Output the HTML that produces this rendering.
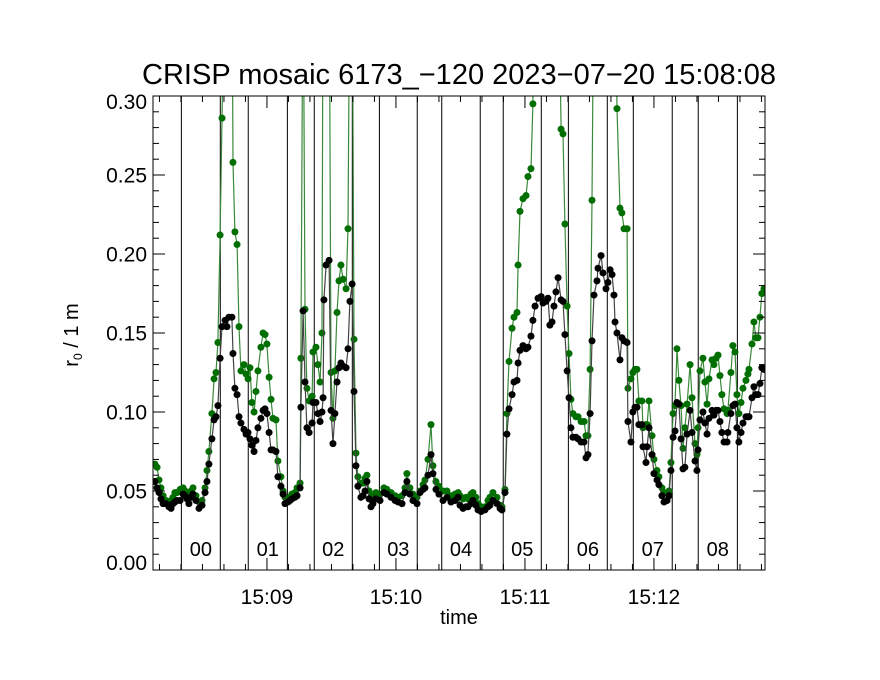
<!DOCTYPE html>
<html><head><meta charset="utf-8"><style>
html,body{margin:0;padding:0;background:#fff;}
svg{display:block;font-family:"Liberation Sans",sans-serif;}
</style></head><body>
<svg id="chart" width="880" height="680" viewBox="0 0 880 680" xmlns="http://www.w3.org/2000/svg">
<rect x="0" y="0" width="880" height="680" fill="#fff"/>
<text x="459" y="84" font-size="29" text-anchor="middle">CRISP mosaic 6173_−120 2023−07−20 15:08:08</text>
<text x="459" y="624" font-size="20" text-anchor="middle">time</text>
<text transform="translate(78,335) rotate(-90)" font-size="20" text-anchor="middle">r<tspan font-size="12" dy="4">0</tspan><tspan dy="-4"> / 1 m</tspan></text>
<defs><clipPath id="plotclip"><rect x="153" y="96" width="612" height="474"/></clipPath></defs>
<g id="grid"></g>
<g id="series" clip-path="url(#plotclip)"></g>
<g id="axes"></g>
</svg>
<script>
// time in seconds after 15:08:00
const times = [7.9,8.9,9.8,10.7,11.7,13.0,14.4,15.4,16.3,17.2,18.2,19.6,21.0,21.9,22.8,23.7,24.7,25.6,27.0,28.4,29.8,31.2,32.1,33.0,34.4,35.4,36.3,37.2,38.2,39.1,40.5,41.4,42.3,43.7,44.2,45.1,46.1,47.0,47.9,49.3,50.3,51.2,52.1,53.0,54.0,54.9,55.8,57.2,58.2,59.1,60.0,61.0,61.9,62.8,64.2,65.1,66.5,67.5,68.4,69.8,70.7,71.6,73.0,74.0,75.4,75.8,76.8,77.7,78.6,79.6,81.0,81.4,82.8,83.7,84.7,85.6,86.1,86.5,87.5,88.9,89.8,90.7,91.6,92.6,93.5,94.4,95.4,96.8,97.7,98.6,99.6,100.5,101.4,102.3,103.7,104.7,105.6,106.5,107.5,108.4,109.3,110.7,112.6,114.4,115.8,117.7,119.6,121.0,122.8,124.2,125.1,126.5,127.9,129.8,131.2,132.6,133.5,134.9,136.3,137.2,138.6,140.0,141.9,143.7,145.6,147.5,148.9,149.8,151.2,152.6,153.5,154.9,155.8,157.2,158.2,159.6,161.4,162.8,163.7,165.1,167.0,168.4,169.3,170.7,171.6,172.6,174.0,174.9,176.3,176.8,177.7,179.1,180.5,181.4,182.8,183.7,184.7,186.1,187.5,188.4,189.8,190.7,191.6,192.6,193.5,194.4,195.4,196.8,197.7,198.6,199.6,200.5,201.4,202.3,203.7,204.7,206.1,207.5,208.4,209.3,210.3,211.2,212.1,213.5,214.0,215.4,216.3,217.7,218.6,219.6,220.5,221.4,221.9,222.8,224.2,225.1,226.1,227.5,227.9,229.3,230.2,231.2,232.1,233.0,234.4,234.9,236.3,236.8,237.7,239.1,240.0,241.4,242.3,243.7,244.7,246.1,247.0,247.9,248.9,249.8,250.7,251.6,252.6,253.5,254.4,255.4,256.8,257.7,259.1,260.0,260.5,261.4,262.8,263.7,264.7,265.6,267.0,267.9,268.9,269.8,270.7,271.6,272.6,274.0,274.4,275.8,276.7,277.7,278.6,279.5,280.5,281.4,282.8,283.7,284.2,285.6,286.5,287.4,288.4,289.3,290.2,291.2];
const blackR0 = [.056,.052,.049,.045,.042,.042,.040,.039,.042,.043,.044,.044,.048,.047,.045,.042,.046,.048,.044,.039,.041,.049,.056,.067,.083,.095,.097,.104,.134,.154,.158,.154,.160,.160,.137,.115,.111,.097,.093,.089,.086,.087,.083,.079,.075,.082,.090,.096,.101,.102,.099,.087,.076,.076,.075,.059,.053,.048,.042,.043,.044,.045,.046,.047,.052,.103,.164,.119,.090,.087,.093,.106,.106,.099,.094,.100,.109,.171,.193,.196,.101,.080,.099,.119,.128,.131,.129,.128,.140,.170,.181,.113,.066,.053,.046,.047,.050,.056,.045,.040,.042,.045,.044,.049,.048,.046,.044,.043,.042,.049,.056,.048,.044,.042,.049,.051,.052,.060,.073,.061,.051,.048,.044,.046,.043,.044,.046,.041,.039,.040,.040,.042,.044,.041,.038,.037,.038,.040,.041,.044,.042,.039,.038,.049,.086,.102,.111,.119,.120,.131,.139,.142,.140,.141,.148,.158,.167,.172,.173,.169,.170,.172,.155,.157,.167,.176,.185,.171,.170,.149,.126,.109,.090,.084,.084,.083,.081,.081,.071,.073,.099,.145,.174,.183,.191,.199,.188,.178,.182,.190,.187,.174,.157,.150,.133,.147,.145,.144,.094,.081,.100,.103,.103,.092,.092,.078,.068,.078,.090,.073,.061,.057,.054,.047,.043,.044,.047,.063,.084,.088,.106,.105,.083,.064,.065,.086,.101,.087,.069,.063,.076,.095,.100,.093,.086,.096,.101,.098,.101,.101,.094,.087,.081,.081,.087,.099,.104,.105,.090,.081,.087,.093,.097,.097,.097,.109,.116,.111,.111,.118,.128,.127];
const greenR0 = [.067,.065,.057,.052,.047,.044,.043,.044,.046,.049,.049,.051,.052,.050,.048,.047,.050,.052,.047,.043,.044,.052,.063,.075,.099,.121,.125,.144,.212,.286,.40,.40,.40,.40,.258,.214,.206,.154,.126,.130,.124,.121,.128,.106,.100,.113,.126,.141,.150,.149,.143,.122,.108,.096,.095,.069,.059,.050,.046,.045,.046,.048,.049,.052,.055,.134,.40,.165,.115,.107,.110,.138,.141,.130,.119,.150,.40,.40,.40,.40,.125,.096,.126,.163,.183,.193,.184,.178,.216,.40,.40,.146,.074,.059,.055,.055,.058,.060,.050,.046,.047,.049,.048,.052,.051,.049,.047,.046,.047,.052,.061,.052,.048,.046,.050,.054,.057,.070,.092,.066,.056,.053,.050,.050,.047,.048,.049,.047,.045,.046,.045,.048,.049,.046,.042,.040,.040,.044,.046,.049,.046,.041,.040,.051,.099,.132,.153,.160,.163,.193,.227,.235,.237,.249,.254,.295,.40,.40,.40,.40,.40,.40,.40,.40,.40,.40,.40,.279,.276,.219,.167,.137,.108,.099,.097,.097,.094,.094,.085,.085,.127,.234,.40,.40,.40,.40,.40,.40,.40,.40,.40,.40,.40,.292,.229,.226,.216,.216,.115,.121,.125,.127,.127,.107,.107,.090,.092,.092,.107,.085,.070,.063,.059,.052,.049,.049,.050,.068,.099,.104,.140,.120,.104,.077,.090,.105,.130,.109,.080,.073,.090,.126,.134,.119,.105,.121,.133,.130,.134,.136,.123,.111,.102,.099,.101,.125,.142,.138,.111,.099,.106,.115,.120,.124,.127,.143,.157,.147,.147,.160,.175,.178];
const segmentBounds = [20.2,38.3,51.3,69.5,82.0,99.7,112.3,129.9,141.3,159.2,169.9,187.6,200.2,218.3,230.4,248.5,260.6,278.8];
const segmentLabels = ["00","01","02","03","04","05","06","07","08"];
const yTicks = [0.00,0.05,0.10,0.15,0.20,0.25,0.30];
const yTickLabels = ["0.00","0.05","0.10","0.15","0.20","0.25","0.30"];
const xMajorTimes = [60,120,180,240];
const xTickLabels = ["15:09","15:10","15:11","15:12"];

const NS="http://www.w3.org/2000/svg";
const L=153,R=765,T=96,B=570;
const T0=7, T1=T0+(R-L)/2.15;
function xs(t){return L+(t-T0)*(R-L)/(T1-T0);}
function ys(v){return B-(v-0)*(B-T)/0.30;}
function mk(tag,parent,attrs){const e=document.createElementNS(NS,tag);for(const k in attrs)e.setAttribute(k,attrs[k]);parent.appendChild(e);return e;}
const grid=document.getElementById('grid'),series=document.getElementById('series'),axes=document.getElementById('axes');

segmentBounds.forEach((t,i)=>{
  const ln=mk('line',grid,{x1:xs(t),x2:xs(t),y1:T,y2:B,stroke:'#000','stroke-width':1});
  
  
});
segmentLabels.forEach((s,i)=>{
  const xm=(xs(segmentBounds[2*i])+xs(segmentBounds[2*i+1]))/2;
  const tx=mk('text',grid,{x:xm,y:556,'font-size':20,'text-anchor':'middle'});
  tx.textContent=s;
  
  
});

function drawSeries(vals,lineCol,dotCol,name){
  const g=mk('g',series,{});
  
  
  const pts=times.map((t,i)=>xs(t).toFixed(1)+','+ys(vals[i]).toFixed(1)).join(' ');
  const pl=mk('polyline',g,{points:pts,fill:'none',stroke:lineCol,'stroke-width':1.2});
  
  
  times.forEach((t,i)=>{
    const c=mk('circle',g,{cx:xs(t),cy:ys(vals[i]),r:3.5,fill:dotCol});
    
    
  });
}
drawSeries(greenR0,'#3a8a3a','#006e00','green');
drawSeries(blackR0,'#444','#000','black');

const frame=mk('rect',axes,{x:L,y:T,width:R-L,height:B-T,fill:'none',stroke:'#000','stroke-width':1});


for(let k=0;k<=30;k++){
  const v=k*0.01,y=ys(v),major=(k%5===0),len=major?12:6;
  const a=mk('line',axes,{x1:L,x2:L+len,y1:y,y2:y,stroke:'#000'});
  
  
  const b=mk('line',axes,{x1:R,x2:R-len,y1:y,y2:y,stroke:'#000'});
  
  
}
yTicks.forEach((v,i)=>{
  let by=ys(v)+7.5;
  if(i===0) by=ys(v);
  if(i===yTicks.length-1) by=ys(v)+13;
  const tx=mk('text',axes,{x:147,y:by,'font-size':21,'text-anchor':'end'});
  tx.textContent=yTickLabels[i];
  
  
});
for(let t=10;t<=290;t+=10){
  const x=xs(t);if(x<L||x>R)continue;
  const major=(t%60===0),len=major?12:6;
  const a=mk('line',axes,{x1:x,x2:x,y1:B,y2:B-len,stroke:'#000'});
  
  
  const b=mk('line',axes,{x1:x,x2:x,y1:T,y2:T+len,stroke:'#000'});
  
  
}
xMajorTimes.forEach((t,i)=>{
  const tx=mk('text',axes,{x:xs(t),y:604,'font-size':21,'text-anchor':'middle'});
  tx.textContent=xTickLabels[i];
  
  
});
</script>
</body></html>
